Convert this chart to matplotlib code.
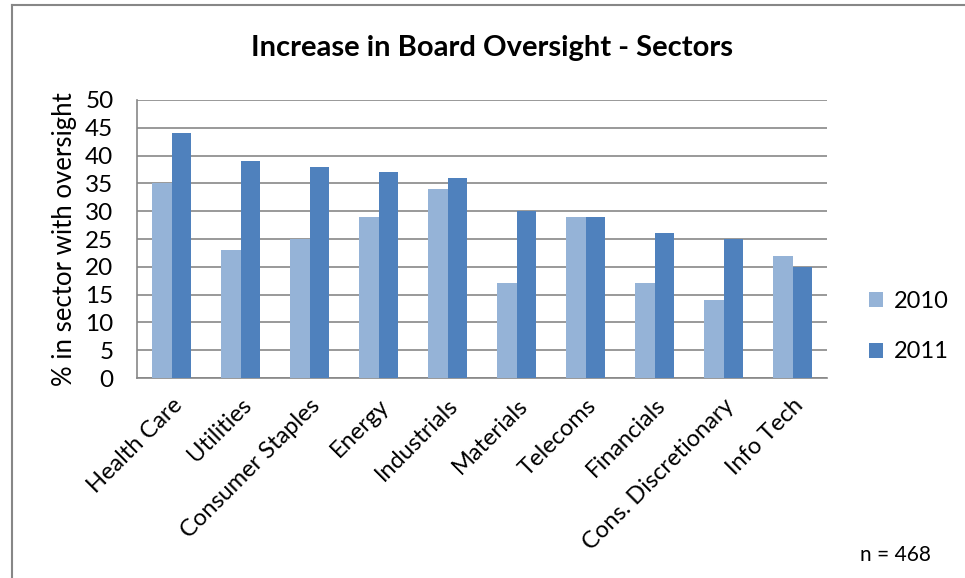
import matplotlib.pyplot as plt
import numpy as np
from matplotlib.lines import Line2D

plt.rcParams['font.family'] = ['Lato', 'DejaVu Sans']

sectors = ['Health Care', 'Utilities', 'Consumer Staples', 'Energy', 'Industrials',
           'Materials', 'Telecoms', 'Financials', 'Cons. Discretionary', 'Info Tech']
pct_2010 = [35, 23, 25, 29, 34, 17, 29, 17, 14, 22]
pct_2011 = [44, 39, 38, 37, 36, 30, 29, 26, 25, 20]
yticks = list(range(0, 55, 5))

fig = plt.figure(figsize=(9.65, 5.78), dpi=100)
ax = fig.add_axes([0.142, 0.346, 0.715, 0.481])

x = np.arange(len(sectors))
w = 0.283
ax.bar(x - w / 2, pct_2010, width=w, color='#95B3D7', label='2010', zorder=3)
ax.bar(x + w / 2, pct_2011, width=w, color='#4F81BD', label='2011', zorder=3)

ax.set_xlim(-0.5, len(sectors) - 0.5)
ax.set_ylim(0, 50)
ax.set_yticks(yticks)
ax.set_yticklabels([str(v) for v in yticks], fontsize=17.5)
ax.set_xticks(x)
ax.set_xticklabels(sectors, rotation=45, ha='right', rotation_mode='anchor', fontsize=17)
ax.tick_params(axis='both', length=0)
ax.tick_params(axis='y', pad=17)
ax.tick_params(axis='x', pad=12)
ax.yaxis.grid(True, color='#878787', linewidth=1.2, zorder=0)
for s in ['top', 'right']:
    ax.spines[s].set_visible(False)
for s in ['left', 'bottom']:
    ax.spines[s].set_color('#878787')
    ax.spines[s].set_linewidth(1.2)
ax.set_ylabel('% in sector with oversight', fontsize=18.5, labelpad=6)

fig.text(0.51, 0.917, 'Increase in Board Oversight - Sectors', ha='center', va='center',
         fontsize=21, fontweight='bold')

ax.legend(loc='center left', bbox_to_anchor=(1.03, 0.185), frameon=False, fontsize=17,
          handlelength=0.6, handleheight=0.6, handletextpad=0.45, labelspacing=1.25)

fig.text(0.928, 0.04, 'n = 468', ha='center', va='center', fontsize=15)

# outer frame of the chart area
fig.add_artist(Line2D([0.0125, 0.0125], [0.0, 0.991], color='#878787', linewidth=1.5))
fig.add_artist(Line2D([0.0125, 1.0], [0.991, 0.991], color='#878787', linewidth=1.5))

fig.savefig('out.png', dpi=100)
